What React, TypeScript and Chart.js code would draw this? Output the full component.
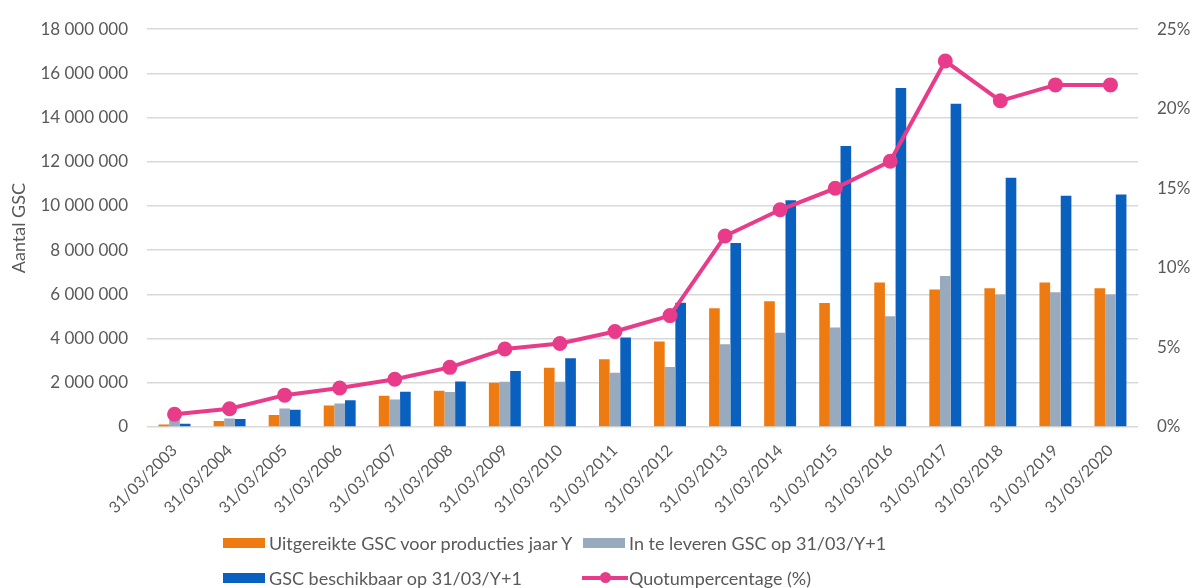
import React, { useEffect, useRef } from "react";
import { Chart, registerables } from "chart.js";

Chart.register(...registerables);

const categories = [
  "31/03/2003", "31/03/2004", "31/03/2005", "31/03/2006", "31/03/2007", "31/03/2008",
  "31/03/2009", "31/03/2010", "31/03/2011", "31/03/2012", "31/03/2013", "31/03/2014",
  "31/03/2015", "31/03/2016", "31/03/2017", "31/03/2018", "31/03/2019", "31/03/2020",
];

const uitgereikt = [
  110000, 270000, 540000, 970000, 1410000, 1640000, 2000000, 2680000, 3060000,
  3870000, 5370000, 5690000, 5610000, 6540000, 6220000, 6280000, 6540000, 6280000,
];

const inTeLeveren = [
  340000, 390000, 840000, 1060000, 1240000, 1580000, 2050000, 2050000, 2450000,
  2720000, 3740000, 4260000, 4500000, 5010000, 6830000, 5990000, 6100000, 5990000,
];

const beschikbaar = [
  150000, 360000, 780000, 1210000, 1600000, 2060000, 2530000, 3110000, 4050000,
  5620000, 8330000, 10260000, 12720000, 15340000, 14630000, 11280000, 10460000, 10520000,
];

const quotum = [
  0.8, 1.15, 2.0, 2.45, 3.0, 3.75, 4.9, 5.25, 6.0, 7.0, 12.0, 13.65, 15.0, 16.7, 23.0,
  20.5, 21.5, 21.5,
];

const seriesLabels = [
  "Uitgereikte GSC voor producties jaar Y",
  "In te leveren GSC op 31/03/Y+1",
  "GSC beschikbaar op 31/03/Y+1",
  "Quotumpercentage (%)",
];

const ORANGE = "#EE7B12";
const GRAY = "#98AABD";
const BLUE = "#0A60BF";
const PINK = "#E83C8B";
const TEXT = "#595959";
const GRID = "#D9D9D9";
const FONT = "Lato, 'Open Sans', sans-serif";

const W = 1195;
const H = 588;

function fmtSpace(v: number): string {
  return String(Math.round(v)).replace(/\B(?=(\d{3})+(?!\d))/g, " ");
}

function Swatch({ color, line }: { color: string; line?: boolean }) {
  if (line) {
    return (
      <span style={{ position: "relative", display: "inline-block", width: 46, height: 10, marginRight: 1 }}>
        <span style={{ position: "absolute", left: 0, right: 0, top: 3, height: 4, background: color }} />
        <span
          style={{
            position: "absolute",
            left: 18,
            top: -1,
            width: 11,
            height: 11,
            borderRadius: "50%",
            background: color,
          }}
        />
      </span>
    );
  }
  return <span style={{ display: "inline-block", width: 42, height: 10, background: color, marginRight: 4 }} />;
}

export default function App() {
  const canvasRef = useRef<HTMLCanvasElement | null>(null);

  useEffect(() => {
    document.body.style.margin = "0";
    const canvas = canvasRef.current;
    if (!canvas) return;
    const chart = new Chart(canvas, {
      type: "bar",
      data: {
        labels: categories,
        datasets: [
          {
            type: "line",
            label: seriesLabels[3],
            data: quotum,
            yAxisID: "y1",
            borderColor: PINK,
            backgroundColor: PINK,
            borderWidth: 4,
            pointRadius: 5.5,
            pointBackgroundColor: PINK,
            pointBorderColor: PINK,
            tension: 0,
            order: 0,
          } as any,
          {
            type: "bar",
            label: seriesLabels[0],
            data: uitgereikt,
            yAxisID: "y",
            backgroundColor: ORANGE,
            barPercentage: 1,
            categoryPercentage: 0.58,
            order: 1,
          },
          {
            type: "bar",
            label: seriesLabels[1],
            data: inTeLeveren,
            yAxisID: "y",
            backgroundColor: GRAY,
            barPercentage: 1,
            categoryPercentage: 0.58,
            order: 1,
          },
          {
            type: "bar",
            label: seriesLabels[2],
            data: beschikbaar,
            yAxisID: "y",
            backgroundColor: BLUE,
            barPercentage: 1,
            categoryPercentage: 0.58,
            order: 1,
          },
        ],
      },
      options: {
        animation: false,
        responsive: true,
        maintainAspectRatio: false,
        layout: { padding: { top: 25, left: 0, right: 0, bottom: 0 } },
        plugins: {
          legend: { display: false },
          tooltip: { enabled: false },
        },
        scales: {
          x: {
            grid: { display: false },
            border: { display: false },
            ticks: {
              color: TEXT,
              font: { family: FONT, size: 16 },
              maxRotation: 45,
              minRotation: 45,
              padding: 6,
              autoSkip: false,
            },
            afterFit: (scale: any) => {
              scale.height = H - 427;
            },
          },
          y: {
            position: "left",
            min: 0,
            max: 18000000,
            grid: { color: GRID, lineWidth: 1.5, drawTicks: false },
            border: { display: false },
            ticks: {
              stepSize: 2000000,
              color: TEXT,
              font: { family: FONT, size: 17 },
              padding: 19,
              callback: (v: any) => fmtSpace(Number(v)),
            },
            title: {
              display: true,
              text: "Aantal GSC",
              color: TEXT,
              font: { family: FONT, size: 18 },
              padding: { top: 8, bottom: 0 },
            },
            afterFit: (scale: any) => {
              scale.width = 147;
            },
          },
          y1: {
            position: "right",
            min: 0,
            max: 25,
            grid: { display: false, drawTicks: false },
            border: { display: false },
            ticks: {
              stepSize: 5,
              color: TEXT,
              font: { family: FONT, size: 17 },
              padding: 19,
              callback: (v: any) => `${v}%`,
            },
            afterFit: (scale: any) => {
              scale.width = W - 1138;
            },
          },
        },
      },
    });
    return () => chart.destroy();
  }, []);

  const legendText: React.CSSProperties = {
    fontFamily: FONT,
    fontSize: 18,
    color: TEXT,
    whiteSpace: "nowrap",
  };
  const row = (top: number): React.CSSProperties => ({
    position: "absolute",
    top,
    height: 22,
    display: "flex",
    alignItems: "center",
  });

  return (
    <div style={{ position: "relative", width: W, height: H, background: "#fff" }}>
      <canvas ref={canvasRef} />
      <div style={{ ...row(532), left: 223 }}>
        <Swatch color={ORANGE} />
        <span style={legendText}>{seriesLabels[0]}</span>
      </div>
      <div style={{ ...row(532), left: 583 }}>
        <Swatch color={GRAY} />
        <span style={legendText}>{seriesLabels[1]}</span>
      </div>
      <div style={{ ...row(567), left: 223 }}>
        <Swatch color={BLUE} />
        <span style={legendText}>{seriesLabels[2]}</span>
      </div>
      <div style={{ ...row(567), left: 582 }}>
        <Swatch color={PINK} line />
        <span style={legendText}>{seriesLabels[3]}</span>
      </div>
    </div>
  );
}
